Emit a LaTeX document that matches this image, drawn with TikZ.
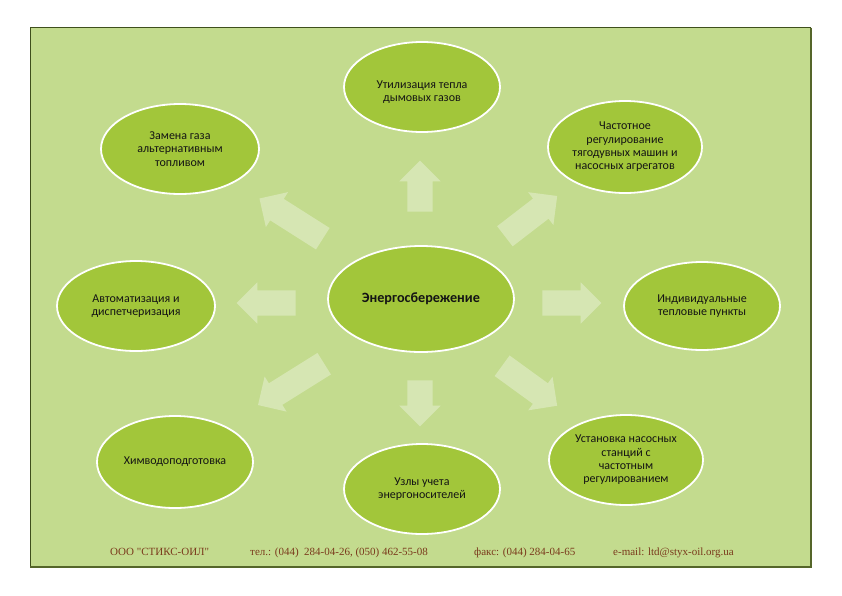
\documentclass[tikz,border=0pt]{standalone}
\usepackage{fontspec}
\setmainfont{Carlito}
\newfontfamily\footfont{Liberation Serif}
\usetikzlibrary{shapes.geometric,shapes.arrows}
\definecolor{bggreen}{HTML}{C3DB8E}
\definecolor{ellgreen}{HTML}{A2C63A}
\definecolor{framedark}{HTML}{3F4F1C}
\definecolor{frameolive}{HTML}{55662A}
\definecolor{footred}{HTML}{7A3A1C}
\begin{document}
\begin{tikzpicture}[x=1pt,y=-1pt,
  topic/.style={ellipse, draw=white, line width=1.8pt, fill=ellgreen, inner sep=0pt,
    align=center, font=\fontsize{12}{13.4}\selectfont, text=black!92},
  topictext/.style={align=center, inner sep=0pt, font=\fontsize{12}{13.4}\selectfont, text=black!92},
  bigarrow/.style={single arrow, draw=none, fill=white, fill opacity=0.33,
    inner sep=12.5pt, single arrow head extend=8pt, single arrow head indent=0pt,
    minimum height=#1, anchor=center},
  foot/.style={font=\footfont\fontsize{11}{13}\selectfont, text=footred,
    anchor=base west, inner sep=0pt}]
\useasboundingbox (0,0) rectangle (842,595);
\fill[white] (0,0) rectangle (842,595);
% background panel
\fill[bggreen] (30,27.5) rectangle (811,567);
\draw[framedark, line width=1pt] (30,567) -- (30,27.5) -- (811,27.5);
\draw[frameolive, line width=2.6pt] (811,27.5) -- (811,567) -- (30,567);

% arrows
\node[bigarrow=51, rotate=90]    (aup)  at (420,192.5) {};
\node[bigarrow=46, rotate=-90]   (adn)  at (420,397) {};
\node[bigarrow=59, rotate=180]   (alf)  at (272.5,303) {};
\node[bigarrow=59, rotate=0]     (art)  at (565.5,303) {};
\node[bigarrow=75, rotate=147.6] (aul)  at (296.5,222) {};
\node[bigarrow=78, rotate=212]   (adl)  at (296.5,381) {};
\node[bigarrow=66, rotate=37.6]  (aur)  at (526,220) {};
\node[bigarrow=68, rotate=-36]   (adr)  at (524.5,382) {};

% ellipses
\node[topic, minimum width=186pt, minimum height=106pt,
      font=\bfseries\fontsize{14.2}{16}\selectfont] (ctr) at (421,299) {Энергосбережение};
\node[topic, minimum width=156pt, minimum height=90pt] (utl) at (422,87) {};
\node[topictext] (utlt) at (422,92) {Утилизация тепла\\дымовых газов};
\node[topic, minimum width=154pt, minimum height=92pt] (frq) at (625,147)
  {Частотное\\регулирование\\тягодувных машин и\\насосных агрегатов};
\node[topic, minimum width=156pt, minimum height=88pt] (itp) at (702,306)
  {Индивидуальные\\тепловые пункты};
\node[topic, minimum width=154pt, minimum height=90pt] (pmp) at (626,460)
  {Установка насосных\\станций с\\частотным\\регулированием};
\node[topic, minimum width=156pt, minimum height=90pt] (mtr) at (422,489)
  {Узлы учета\\энергоносителей};
\node[topic, minimum width=156pt, minimum height=92pt] (chm) at (175,462)
  {Химводоподготовка};
\node[topic, minimum width=158pt, minimum height=90pt] (aut) at (136,306)
  {Автоматизация и\\диспетчеризация};
\node[topic, minimum width=158pt, minimum height=90pt] (gas) at (180,149)
  {Замена газа\\альтернативным\\топливом};

% footer
\node[foot] (f1) at (110,555.5) {ООО "СТИКС-ОИЛ"};
\node[foot] (f2) at (250,555.5) {тел.: (044) \ 284-04-26, (050) 462-55-08};
\node[foot] (f3) at (474,555.5) {факс: (044) 284-04-65};
\node[foot] (f4) at (613,555.5) {e-mail: ltd@styx-oil.org.ua};
\end{tikzpicture}
\end{document}
